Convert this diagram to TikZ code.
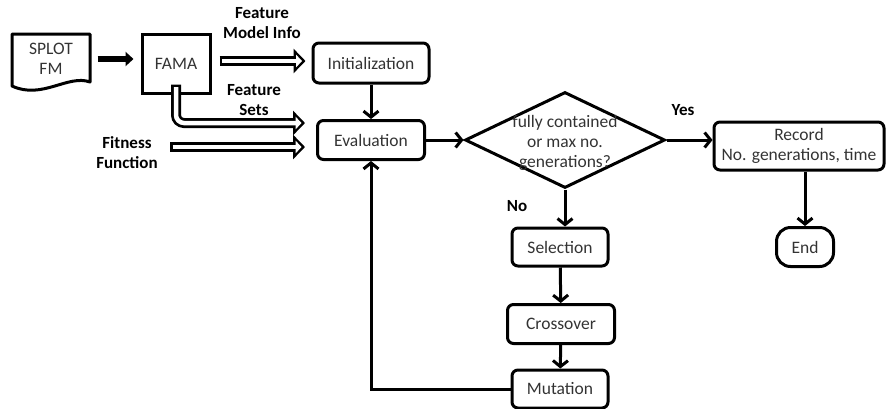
\documentclass[tikz,border=0pt]{standalone}
\usepackage{fontspec}
\setmainfont{Carlito}
\usetikzlibrary{arrows.meta,shapes.geometric,positioning}

\begin{document}
\begin{tikzpicture}[x=1pt, y=-1pt, >={Straight Barb[length=6pt,width=15pt]},
		box/.style={draw, line width=3pt, rounded corners=6pt, inner sep=2pt,
			font=\fontsize{17.5}{20}\selectfont, text=black!80, align=center},
		lbl/.style={font=\fontsize{17}{20}\selectfont\bfseries, align=center},
		flow/.style={->, line width=3pt},
		hollow/.style={line width=10pt, -{Triangle[length=12pt,width=24pt]},
			postaction={draw=white, line width=4.5pt, shorten <=2.5pt, shorten >=3.5pt,
				-{Triangle[length=6pt,width=12.5pt]}}}]
		\useasboundingbox (0,0) rectangle (890,408);

		% 1. Input side: SPLOT document and FAMA
		\node[box, draw=none, minimum width=78pt, minimum height=52pt] (splot) at (51,59) {SPLOT\\FM};
		\draw[line width=3pt, line join=round] (12,86) -- (12,34) -- (90,34) -- (90,82)
			.. controls (68,74) and (42,100) .. cycle;
		\node[box, rounded corners=0pt, minimum width=68pt, minimum height=59pt] (fama) at (176,63.5) {FAMA};
		\draw[line width=6.5pt, -{Triangle[length=8pt,width=14pt]}] ([xshift=6pt]splot.east) -- ([xshift=-7pt]fama.west |- splot.east);

		% 2. Main loop boxes
		\node[box, minimum width=116pt, minimum height=40pt] (init) at (371,63) {Initialization};
		\node[box, minimum width=107pt, minimum height=39pt] (eval) at (371,140) {Evaluation};
		\node[draw, shape=diamond, line width=3pt, minimum width=200pt, minimum height=96pt, inner sep=0pt] (check) at (565,140) {};
		\node[font=\fontsize{17.5}{20}\selectfont, text=black!80, align=center] (checktxt) at (565,143) {fully contained\\or max no.\\generations?};
		\node[box, minimum width=170pt, minimum height=48pt] (record) at (799,146) {Record\\No. generations, time};
		\node[box, rounded corners=14pt, minimum width=57pt, minimum height=39pt] (finish) at (805,247) {End};
		\node[box, minimum width=96pt, minimum height=38pt] (sel) at (560,247) {Selection};
		\node[box, minimum width=107pt, minimum height=39pt] (cross) at (561,324) {Crossover};
		\node[box, minimum width=96pt, minimum height=38pt] (mut) at (560,389) {Mutation};

		% 3. Hollow input arrows
		\draw[hollow] ([xshift=8pt]fama.east |- 0,61) -- ([xshift=-6pt]init.west |- 0,61);
		\draw[hollow, rounded corners=8pt] ([yshift=10pt]fama.south) |- ([xshift=-11pt]eval.west |- 0,123);
		\coordinate (fitstart) at (170,147);
		\draw[hollow] (fitstart) -- ([xshift=-11pt]eval.west |- fitstart);

		% 4. Flow arrows
		\draw[flow] (init) -- (eval);
		\draw[flow] (eval) -- (check);
		\draw[flow] (check.east) -- (check.east -| record.west);
		\draw[flow] (finish.north |- record.south) -- (finish.north);
		\draw[flow] (check.south) -- (check.south |- sel.north);
		\draw[flow] (sel) -- (cross);
		\draw[flow] (cross) -- (mut);
		\draw[flow] (mut.west) -| (eval.south);

		% 5. Labels
		\node[lbl] (fmlbl) at (262,23) {Feature\\Model Info};
		\node[lbl] (fslbl) at (254,100) {Feature\\Sets};
		\node[lbl] (fitlbl) at (127,153) {Fitness\\Function};
		\node[lbl] (yes) at (683,110) {Yes};
		\node[lbl] (no) at (517,206) {No};
	\end{tikzpicture}
\end{document}
